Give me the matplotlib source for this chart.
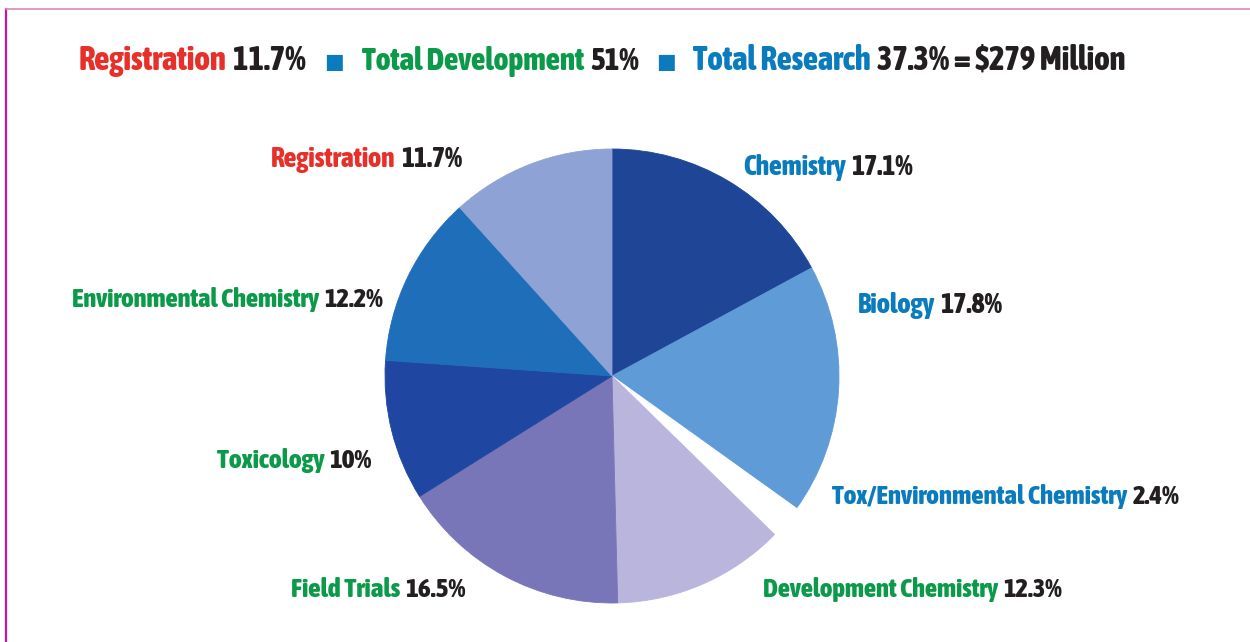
import matplotlib
matplotlib.use("Agg")
import matplotlib.pyplot as plt
from matplotlib.lines import Line2D
from matplotlib import font_manager
from matplotlib.font_manager import FontProperties

# ---- data ----
categories = ["Chemistry", "Biology", "Tox/Environmental Chemistry",
              "Development Chemistry", "Field Trials", "Toxicology",
              "Environmental Chemistry", "Registration"]
shares = [17.1, 17.8, 2.4, 12.3, 16.5, 10.0, 12.2, 11.7]
share_labels = ["17.1%", "17.8%", "2.4%", "12.3%", "16.5%", "10%", "12.2%", "11.7%"]
groups = ["research", "research", "research", "development", "development",
          "development", "development", "registration"]
title_parts = [("Registration", "registration"), ("11.7%", "value"),
               ("Total Development", "development"), ("51%", "value"),
               ("Total Research", "research"), ("37.3% = $279 Million", "value")]

# ---- styles ----
slice_colors = ["#1f4597", "#5f9bd6", "#ffffff", "#b9b5dd",
                "#7876b9", "#1f47a2", "#1f6eb9", "#8fa2d5"]
text_colors = {"registration": "#e8302a", "development": "#0a9a4a",
               "research": "#0a7bbd", "value": "#231f20"}


def weight_num(w):
    if isinstance(w, (int, float)):
        return w
    return {"bold": 700, "heavy": 800, "black": 900, "semibold": 600,
            "demibold": 600, "extra bold": 800, "ultrabold": 800}.get(str(w).lower(), 400)


cands = []
for f in font_manager.fontManager.ttflist:
    name = f.name
    st = str(f.stretch).lower()
    narrow = ("narrow" in name.lower() or "condensed" in name.lower()
              or "condensed" in st or "narrow" in f.fname.lower()
              or "condensed" in f.fname.lower())
    if narrow and f.style == "normal":
        cands.append((abs(weight_num(f.weight) - 800), f.fname))
cands.sort()
if cands:
    FP = FontProperties(fname=cands[0][1])
else:
    FP = FontProperties(family=["Roboto", "DejaVu Sans"], weight="bold")

W, H = 1250, 642
fig = plt.figure(figsize=(W / 100, H / 100), dpi=100)
ax = fig.add_axes([0, 0, 1, 1])

cx, cy, r = 612, 376, 227
wedges, _ = ax.pie(shares, colors=slice_colors, startangle=90, counterclock=False,
                   center=(cx, H - cy), radius=r)
for wdg in wedges:
    wdg.set_edgecolor(wdg.get_facecolor())
    wdg.set_linewidth(0.6)
ax.set_xlim(0, W)
ax.set_ylim(0, H)
ax.set_aspect("auto")
ax.axis("off")

# frame lines
fig.add_artist(Line2D([6 / W, 6 / W], [0, 1 - 9 / H], color="#c8189a", lw=1.6))
fig.add_artist(Line2D([6 / W, 1], [1 - 9 / H, 1 - 9 / H], color="#d98ab8", lw=1.2))

fig.canvas.draw()
renderer = fig.canvas.get_renderer()


def rich(x0, x1, ybase, parts, size0=20):
    """Place coloured parts in a row, fitting the total width to x1-x0."""
    def build(size):
        objs = []
        x = x0
        gap = size * 0.26
        fp = FP.copy()
        fp.set_size(size)
        for s, c in parts:
            t = ax.text(x, H - ybase, s, color=c, fontproperties=fp,
                        ha="left", va="baseline")
            w = t.get_window_extent(renderer).width
            objs.append(t)
            x += w + gap
        return objs, x - gap - x0
    objs, w = build(size0)
    for o in objs:
        o.remove()
    size = size0 * (x1 - x0) / w
    build(size)


# title
seg1 = [(title_parts[0][0], text_colors[title_parts[0][1]]), (title_parts[1][0], text_colors["value"])]
seg2 = [(title_parts[2][0], text_colors[title_parts[2][1]]), (title_parts[3][0], text_colors["value"])]
seg3 = [(title_parts[4][0], text_colors[title_parts[4][1]]), (title_parts[5][0], text_colors["value"])]
rich(79, 306, 70, seg1, 24)
rich(362, 639, 70, seg2, 24)
rich(693, 1126, 70, seg3, 24)
for sx in (333.5, 665.5):
    ax.text(sx, H - 62, "■", color=text_colors["research"], fontsize=15,
            family="DejaVu Sans", ha="center", va="center")

# slice labels: (left, right, baseline)
label_pos = {
    "Chemistry": (743, 912, 175),
    "Biology": (858, 1003, 313),
    "Tox/Environmental Chemistry": (832, 1178, 504),
    "Development Chemistry": (763, 1062, 597),
    "Field Trials": (291, 466, 597),
    "Toxicology": (217, 372, 468),
    "Environmental Chemistry": (72, 383, 307),
    "Registration": (271, 462, 167),
}
for cat, lab, g in zip(categories, share_labels, groups):
    x0, x1, yb = label_pos[cat]
    rich(x0, x1, yb, [(cat, text_colors[g]), (lab, text_colors["value"])], 19)

fig.savefig("out.png", dpi=100, facecolor="white")
